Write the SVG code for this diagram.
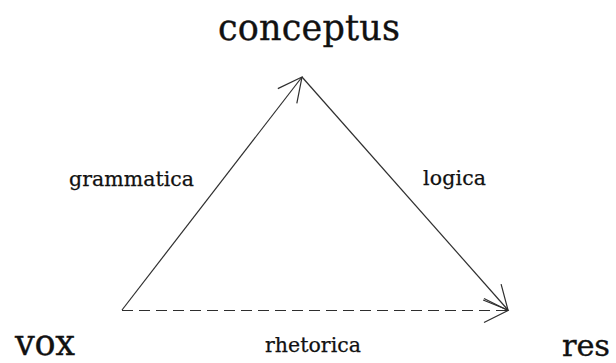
<svg xmlns="http://www.w3.org/2000/svg" width="616" height="363" viewBox="0 0 616 363">
<style>
text{font-family:"DejaVu Serif","Liberation Serif",serif;fill:#111;stroke:#111;stroke-width:0.35}
.big{font-size:35px}
.small{font-size:20.5px;stroke-width:0.25}
.edge{fill:none;stroke:#2e2e2e;stroke-width:1.2}
.dash{stroke-dasharray:11 6}
</style>
<defs>
<marker id="arr" markerUnits="userSpaceOnUse" markerWidth="30" markerHeight="30" refX="0" refY="0" viewBox="-25 -15 30 30" orient="auto" overflow="visible">
<path d="M-24,-12 L0,0 L-24,12" fill="none" stroke="#2e2e2e" stroke-width="1.2"/>
</marker>
</defs>
<rect width="616" height="363" fill="#fff"/>
<g id="connectors">
<path class="edge" d="M122,310 L302,77" marker-end="url(#arr)"/>
<path class="edge" d="M302,77 L508,310" marker-end="url(#arr)"/>
<path class="edge dash" d="M122,310.5 L508,310.5" marker-end="url(#arr)"/>
</g>
<g id="conceptus"><text class="big" x="218" y="40" textLength="182">conceptus</text></g>
<g id="vox"><text class="big" x="15" y="355" textLength="60">vox</text></g>
<g id="res"><text class="big" x="562" y="356" textLength="48" style="font-size:30.5px">res</text></g>
<g id="grammatica-label"><text class="small" x="69" y="186" textLength="125">grammatica</text></g>
<g id="logica-label"><text class="small" x="423" y="185" textLength="63">logica</text></g>
<g id="rhetorica-label"><text class="small" x="265" y="352" textLength="96">rhetorica</text></g>
</svg>
